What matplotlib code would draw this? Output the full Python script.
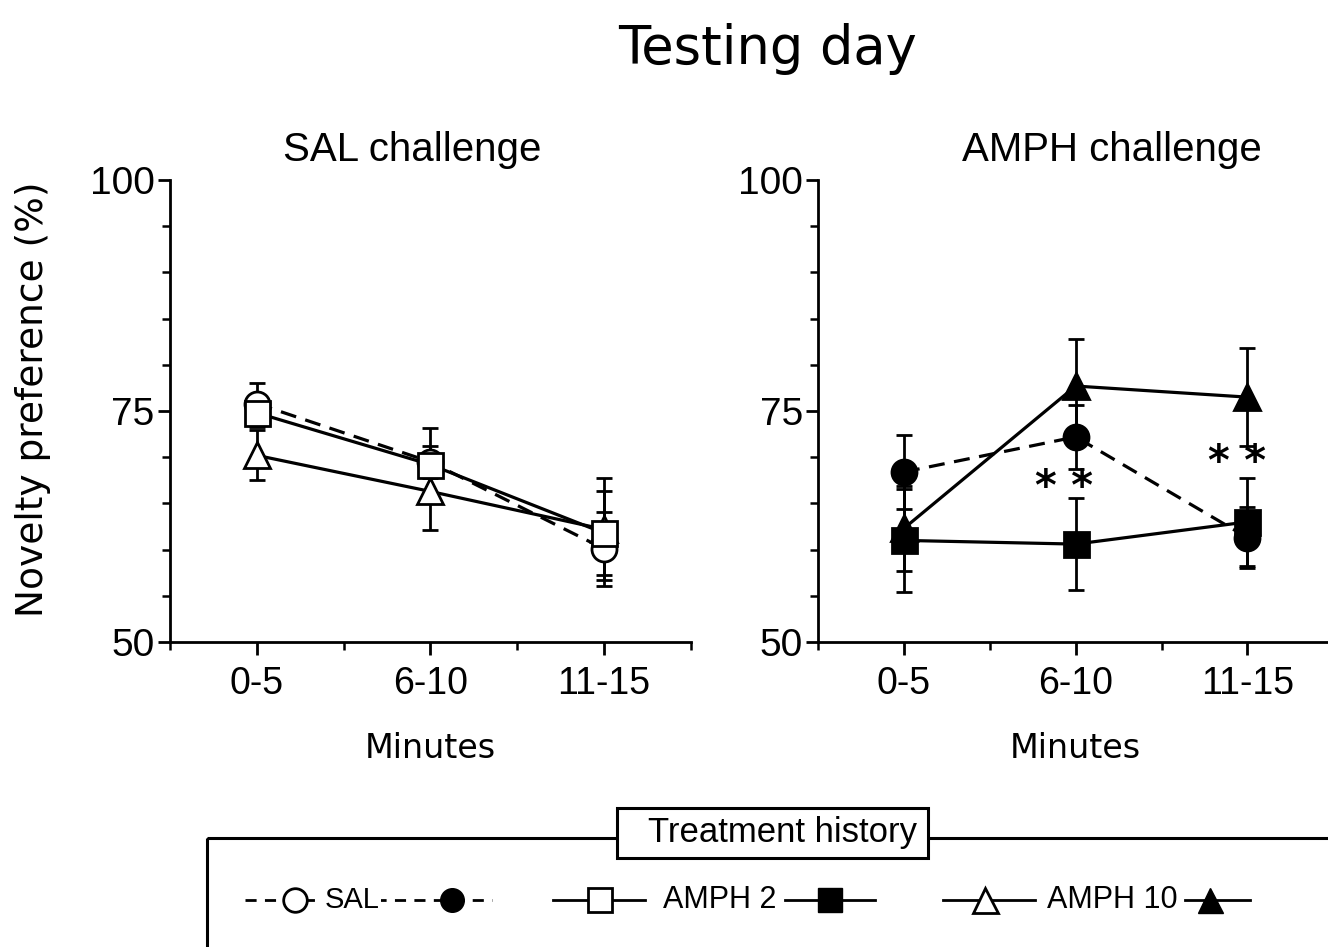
import numpy as np
import matplotlib
matplotlib.use("Agg")
import matplotlib.pyplot as plt
from matplotlib.patches import Rectangle
from matplotlib.ticker import MultipleLocator

# data
minutes = ["0-5", "6-10", "11-15"]

sal_sal = [75.8, 69.5, 60.1]
sal_sal_err = [2.2, 1.7, 4.0]
sal_amph2 = [74.8, 69.2, 61.8]
sal_amph2_err = [1.5, 4.0, 4.5]
sal_amph10 = [70.2, 66.3, 62.2]
sal_amph10_err = [2.7, 4.2, 5.5]

amph_sal = [68.4, 72.2, 61.3]
amph_sal_err = [4.0, 3.5, 3.3]
amph_amph2 = [61.0, 60.6, 63.0]
amph_amph2_err = [5.6, 5.0, 4.8]
amph_amph10 = [62.3, 77.7, 76.5]
amph_amph10_err = [4.6, 5.1, 5.3]

stars = [(0.93, 66.7), (1.94, 69.4)]

hand = "DejaVu Sans"
plain = "Liberation Sans"

fig = plt.figure(figsize=(13.28, 9.47), dpi=100)
fig.patch.set_facecolor("white")

fig.text(0.578, 0.948, "Testing day", ha="center", va="center",
         fontsize=38, family=hand)

x = np.arange(len(minutes))


def series(ax, y, err, marker, filled, dashed):
    ax.errorbar(x, y, yerr=err, fmt="none", ecolor="black", elinewidth=2.0,
                capsize=6, capthick=2.0, zorder=2)
    ax.plot(x, y, "--" if dashed else "-", color="black", lw=2.3,
            dashes=(5, 3) if dashed else (None, None), zorder=3)
    ax.plot(x, y, linestyle="none", marker=marker, markersize=18 if marker != "^" else 19,
            markerfacecolor="black" if filled else "white",
            markeredgecolor="black", markeredgewidth=2.0, zorder=4)


def style(ax, title, tx):
    ax.set_xlim(-0.5, 2.5)
    ax.set_ylim(50, 100)
    ax.spines["top"].set_visible(False)
    ax.spines["right"].set_visible(False)
    for s in ["left", "bottom"]:
        ax.spines[s].set_linewidth(2.0)
    ax.set_xticks(x)
    ax.set_xticklabels(minutes, family=plain, fontsize=27)
    ax.set_xticks([-0.5, 0.5, 1.5, 2.5], minor=True)
    ax.set_yticks([50, 75, 100])
    ax.set_yticklabels(["50", "75", "100"], family=plain, fontsize=28)
    ax.yaxis.set_minor_locator(MultipleLocator(5))
    ax.tick_params(which="major", length=9, width=2.0)
    ax.tick_params(which="minor", length=6, width=1.8)
    ax.tick_params(axis="x", which="major", pad=8)
    ax.tick_params(axis="y", which="major", pad=2)
    ax.text(tx, 1.065, title, transform=ax.transAxes, ha="center", va="center",
            family=plain, fontsize=29)
    ax.set_xlabel("Minutes", family=hand, fontsize=24, labelpad=22)


ax1 = fig.add_axes([0.128, 0.322, 0.392, 0.488])
series(ax1, sal_amph10, sal_amph10_err, "^", False, False)
series(ax1, sal_sal, sal_sal_err, "o", False, True)
series(ax1, sal_amph2, sal_amph2_err, "s", False, False)
style(ax1, "SAL challenge", 0.465)
ax1.set_ylabel("Novelty preference (%)", family=hand, fontsize=27)
ax1.yaxis.set_label_coords(-0.228, 0.525)

ax2 = fig.add_axes([0.616, 0.322, 0.388, 0.488])
series(ax2, amph_sal, amph_sal_err, "o", True, True)
series(ax2, amph_amph2, amph_amph2_err, "s", True, False)
series(ax2, amph_amph10, amph_amph10_err, "^", True, False)
style(ax2, "AMPH challenge", 0.571)
for sx, sy in stars:
    ax2.text(sx, sy, "* *", ha="center", va="center", fontsize=30,
             fontweight="bold", family=hand)

# legend box drawn in pixel coordinates
lg = fig.add_axes([0, 0, 1, 1], zorder=5)
lg.set_xlim(0, 1328)
lg.set_ylim(947, 0)
lg.axis("off")
lg.add_patch(Rectangle((207, 838), 1200, 200, fill=False, lw=2.2, ec="black"))
lg.add_patch(Rectangle((617, 808), 311, 50, fc="white", lw=2.2, ec="black", zorder=3))
lg.text(782, 832, "Treatment history", ha="center", va="center",
        family=plain, fontsize=25, zorder=4)

ly = 900
kw = dict(color="black", lw=2.0)
lg.plot([245, 330], [ly, ly], ls="--", dashes=(4, 3), **kw)
lg.plot([375, 492], [ly, ly], ls="--", dashes=(4, 3), **kw)
lg.plot([295], [ly], "o", ms=17, mfc="white", mec="black", mew=2.0)
lg.plot([452], [ly], "o", ms=17, mfc="black", mec="black")
lg.text(352, ly, "SAL", ha="center", va="center", family=plain, fontsize=21,
        bbox=dict(fc="white", ec="none", pad=1))

lg.plot([553, 645], [ly, ly], **kw)
lg.plot([785, 875], [ly, ly], **kw)
lg.plot([600], [ly], "s", ms=17, mfc="white", mec="black", mew=2.0)
lg.plot([830], [ly], "s", ms=17, mfc="black", mec="black")
lg.text(720, ly, "AMPH 2", ha="center", va="center", family=plain, fontsize=22)

lg.plot([943, 1035], [ly, ly], **kw)
lg.plot([1185, 1250], [ly, ly], **kw)
lg.plot([985], [ly], "^", ms=18, mfc="white", mec="black", mew=2.0)
lg.plot([1210], [ly], "^", ms=18, mfc="black", mec="black")
lg.text(1112, ly, "AMPH 10", ha="center", va="center", family=plain, fontsize=22)

fig.savefig("out.png", dpi=100)
